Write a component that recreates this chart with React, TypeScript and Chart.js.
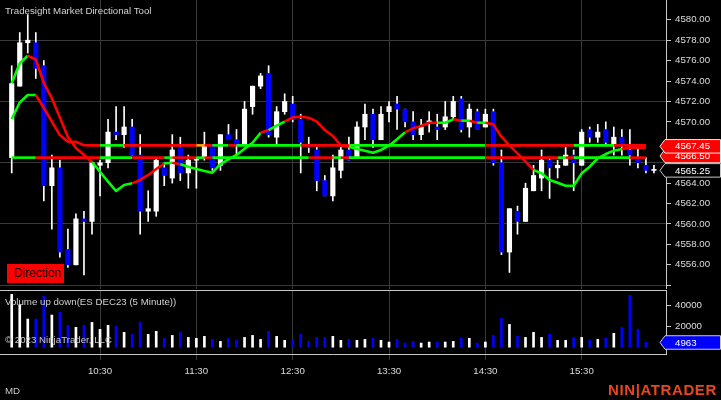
import React, { useEffect, useRef } from "react";
import { Chart, registerables } from "chart.js";
Chart.register(...registerables);

// ---------------- data ----------------
const opens = [
  4566.5, 4573.5, 4577.75, 4577.75, 4575.5, 4563.75, 4565.5, 4557.5, 4556.0, 4560.5,
  4560.25, 4565.75, 4566.0, 4569.0, 4568.75, 4569.5, 4566.75, 4561.25, 4561.25, 4565.5,
  4564.5, 4567.5, 4565.0, 4566.25, 4566.5, 4567.75, 4565.75, 4568.75, 4568.25, 4567.75,
  4571.5, 4573.5, 4574.75, 4568.5, 4571.0, 4571.75, 4570.25, 4567.75, 4567.25, 4564.25,
  4562.75, 4565.25, 4567.25, 4566.5, 4569.5, 4570.75, 4568.25, 4571.0, 4571.75, 4571.25,
  4570.0, 4568.75, 4570.0, 4569.5, 4569.5, 4570.5, 4572.25, 4569.5, 4571.0, 4569.5,
  4571.0, 4566.0, 4557.25, 4561.25, 4560.25, 4563.25, 4564.5, 4566.25, 4565.5, 4565.75,
  4566.75, 4565.75, 4569.25, 4568.5, 4569.25, 4567.75, 4568.5, 4567.25, 4566.5, 4565.75,
  4565.25,
];
const highs = [
  4575.5, 4578.75, 4580.5, 4578.75, 4576.0, 4566.75, 4566.25, 4559.5, 4561.0, 4561.25,
  4566.0, 4566.25, 4570.25, 4571.5, 4571.5, 4570.25, 4568.75, 4563.25, 4566.5, 4566.0,
  4568.75, 4568.5, 4566.75, 4566.5, 4569.0, 4567.75, 4568.75, 4569.75, 4569.25, 4572.0,
  4573.5, 4574.75, 4575.5, 4571.5, 4572.75, 4572.5, 4570.75, 4568.5, 4567.5, 4564.75,
  4566.75, 4567.5, 4568.5, 4570.0, 4571.75, 4571.25, 4571.5, 4572.0, 4572.5, 4571.25,
  4571.0, 4570.25, 4571.0, 4570.75, 4572.0, 4572.5, 4572.5, 4571.75, 4571.25, 4571.25,
  4571.25, 4567.25, 4561.5, 4561.75, 4564.0, 4565.75, 4567.25, 4566.5, 4566.25, 4567.5,
  4567.25, 4569.25, 4569.5, 4569.75, 4570.0, 4569.5, 4569.25, 4569.25, 4567.5, 4566.5,
  4565.75,
];
const lows = [
  4565.0, 4573.5, 4576.75, 4574.25, 4562.25, 4559.5, 4556.75, 4555.75, 4556.0, 4555.0,
  4559.0, 4562.75, 4565.5, 4568.25, 4567.5, 4566.75, 4559.0, 4560.25, 4560.75, 4563.75,
  4564.0, 4564.25, 4563.5, 4563.5, 4566.25, 4565.25, 4565.25, 4568.25, 4566.75, 4567.75,
  4570.75, 4573.25, 4568.5, 4567.75, 4570.75, 4570.0, 4565.0, 4567.0, 4563.25, 4562.75,
  4562.25, 4564.5, 4566.25, 4566.5, 4568.25, 4567.5, 4568.25, 4570.0, 4569.25, 4569.5,
  4568.25, 4568.25, 4569.0, 4568.25, 4569.25, 4570.25, 4569.0, 4568.5, 4569.25, 4569.5,
  4565.75, 4557.0, 4555.25, 4559.0, 4560.25, 4563.25, 4563.25, 4562.5, 4564.5, 4565.75,
  4563.25, 4565.75, 4568.0, 4568.0, 4567.75, 4566.75, 4566.75, 4565.75, 4565.5, 4565.0,
  4565.0,
];
const closes = [
  4573.75, 4577.75, 4578.0, 4575.25, 4563.75, 4565.5, 4557.25, 4556.0, 4560.5, 4560.25,
  4566.0, 4566.0, 4569.0, 4568.75, 4569.5, 4566.75, 4561.25, 4561.5, 4566.25, 4564.75,
  4567.25, 4565.0, 4566.25, 4566.25, 4567.75, 4565.5, 4568.75, 4568.25, 4567.75, 4571.25,
  4573.5, 4574.5, 4568.75, 4571.0, 4572.0, 4570.25, 4568.0, 4567.5, 4564.25, 4562.75,
  4565.5, 4567.25, 4566.25, 4569.5, 4570.75, 4568.25, 4570.75, 4571.5, 4571.25, 4570.0,
  4568.75, 4569.5, 4570.0, 4569.25, 4570.5, 4572.0, 4569.25, 4571.25, 4569.25, 4570.75,
  4566.0, 4557.25, 4561.5, 4560.25, 4563.5, 4564.75, 4566.25, 4565.5, 4565.75, 4566.75,
  4566.0, 4569.0, 4568.5, 4569.0, 4568.0, 4568.5, 4567.75, 4566.75, 4566.0, 4565.25,
  4565.25,
];
const volumes = [
  50800, 41000, 27300, 27300, 48900, 31100, 33700, 21300, 19400, 21300,
  24100, 17500, 21300, 20300, 14600, 12700, 24100, 12700, 15600, 8900,
  11700, 14600, 9800, 8900, 10800, 7900, 6000, 8900, 7000, 9800,
  11700, 7900, 15600, 10800, 7000, 7900, 12700, 6000, 9800, 9800,
  10800, 7000, 7900, 7000, 7900, 8900, 7000, 5400, 7900, 4400,
  6000, 4400, 5400, 5400, 5400, 6000, 8900, 8900, 4400, 5400,
  11700, 27900, 22200, 10800, 9800, 14600, 9800, 12700, 7000, 7000,
  9800, 9800, 7000, 7900, 8900, 13700, 19400, 49800, 17500, 4963,
];
const fastLine = [
  4573.78, 4575.74, 4576.48, 4576.11, 4573.81, 4572.31, 4570.43, 4568.52, 4567.44, 4566.76,
  4566.07, 4565.12, 4564.14, 4563.23, 4563.82, 4563.98, 4564.31, 4564.8, 4565.39, 4565.94,
  4566.0, 4565.85, 4565.61, 4565.39, 4565.19, 4565.02, 4565.87, 4566.33, 4566.76, 4567.37,
  4567.96, 4568.94, 4569.2, 4569.63, 4570.02, 4570.45, 4570.51, 4570.41, 4570.02, 4569.2,
  4568.62, 4567.67, 4567.57, 4567.34, 4567.18, 4566.98, 4567.25, 4567.67, 4568.29, 4568.98,
  4569.37, 4569.6, 4569.92, 4569.92, 4569.92, 4570.25, 4570.12, 4570.12, 4569.92, 4569.92,
  4569.76, 4568.55, 4567.67, 4566.92, 4566.1, 4565.29, 4564.96, 4564.31, 4564.04, 4563.75,
  4563.75, 4564.96, 4565.61, 4566.43, 4566.85, 4567.18, 4567.34, 4567.47, 4567.47, 4567.45,
];
const slowLine = [
  4570.28, 4571.9, 4572.63, 4572.63, 4571.36, 4570.04, 4568.71, 4568.06, 4568.06, 4567.71,
  4567.7, 4567.7, 4567.7, 4567.7, 4567.7, 4567.7, 4567.7, 4567.7, 4567.7, 4567.7,
  4567.7, 4567.7, 4567.7, 4567.7, 4567.7, 4567.7, 4567.7, 4567.7, 4567.7, 4567.7,
  4567.7, 4567.7, 4567.7, 4567.7, 4567.7, 4567.7, 4567.7, 4567.7, 4567.7, 4567.7,
  4567.7, 4567.7, 4567.7, 4567.7, 4567.7, 4567.7, 4567.7, 4567.7, 4567.7, 4567.7,
  4567.7, 4567.7, 4567.7, 4567.7, 4567.7, 4567.7, 4567.7, 4567.7, 4567.7, 4567.7,
  4567.7, 4567.7, 4567.7, 4567.7, 4567.7, 4567.7, 4567.7, 4567.7, 4567.7, 4567.7,
  4567.7, 4567.7, 4567.7, 4567.7, 4567.7, 4567.7, 4567.7, 4567.7, 4567.7, 4567.7,
];
const levelLine = [
  4566.5, 4566.5, 4566.5, 4566.5, 4566.5, 4566.5, 4566.5, 4566.5, 4566.5, 4566.5,
  4566.5, 4566.5, 4566.5, 4566.5, 4566.5, 4566.5, 4566.5, 4566.5, 4566.5, 4566.5,
  4566.5, 4566.5, 4566.5, 4566.5, 4566.5, 4566.5, 4566.5, 4566.5, 4566.5, 4566.5,
  4566.5, 4566.5, 4566.5, 4566.5, 4566.5, 4566.5, 4566.5, 4566.5, 4566.5, 4566.5,
  4566.5, 4566.5, 4566.5, 4566.5, 4566.5, 4566.5, 4566.5, 4566.5, 4566.5, 4566.5,
  4566.5, 4566.5, 4566.5, 4566.5, 4566.5, 4566.5, 4566.5, 4566.5, 4566.5, 4566.5,
  4566.5, 4566.5, 4566.5, 4566.5, 4566.5, 4566.5, 4566.5, 4566.5, 4566.5, 4566.5,
  4566.5, 4566.5, 4566.5, 4566.5, 4566.5, 4566.5, 4566.5, 4566.5, 4566.5, 4566.5,
];
// colour runs: [start bar index, g=green r=red o=orange]
const fastRuns: [number, string][] = [
  [0, "g"], [2, "r"], [10, "g"], [15, "r"], [19, "g"], [20, "r"], [21, "g"], [31, "r"], [32, "g"],
  [34, "r"], [42, "g"], [49, "r"], [53, "g"], [55, "r"], [56, "g"], [57, "r"], [58, "g"], [59, "r"],
  [65, "g"], [76, "r"],
];
const slowRuns: [number, string][] = [
  [0, "g"], [3, "r"], [11, "g"], [14, "r"], [23, "o"], [24, "r"], [25, "g"], [27, "r"], [28, "g"],
  [36, "r"], [42, "g"], [59, "r"], [70, "g"], [75, "r"],
];
const levelRuns: [number, string][] = [
  [0, "g"], [3, "r"], [11, "g"], [15, "r"], [19, "g"], [20, "r"], [23, "g"], [24, "r"], [25, "g"],
  [37, "r"], [40, "g"], [41, "r"], [42, "g"], [59, "r"], [68, "g"], [69, "r"], [70, "g"], [77, "r"],
];
const timeTickIndex = [11, 23, 35, 47, 59, 71];
const timeLabels = ["10:30", "11:30", "12:30", "13:30", "14:30", "15:30"];
const priceTicks = [4554, 4556, 4558, 4560, 4562, 4564, 4566, 4568, 4570, 4572, 4574, 4576, 4578, 4580];
const volumeTicks = [0, 20000, 40000];

// ---------------- styling ----------------
const FONT = '"Liberation Sans", Arial, Helvetica, sans-serif';
const GRID = "#3a3a3a";
const AXIS = "#c8c8c8";
const TXT = "#dcdcdc";
const UP = "#ffffff";
const DOWN = "#0000ff";
const palette: Record<string, string> = { g: "#00ff00", r: "#ff0000", o: "#ffa500" };
const X_MIN = -1.46;
const X_MAX = 81.5;
const P_MIN = 4553.63;
const P_MAX = 4581.94;
const V_MIN = -6000;
const V_MAX = 54950;
const AXIS_W = 55;
const FS = 9.7;
const TAG_H = 13.5;
const TAG_NUDGE = -1.6; // stacked tags are pushed up slightly to reduce overlap

function runColor(runs: [number, string][], i: number) {
  let c = runs[0][1];
  for (const [s, col] of runs) if (i >= s) c = col;
  return palette[c];
}

function drawTag(ctx: CanvasRenderingContext2D, y: number, text: string, fill: string, textColor: string, stroke: string) {
  const tip = 660, left = 665, right = 720.5, h = TAG_H;
  ctx.save();
  ctx.beginPath();
  ctx.moveTo(tip, y);
  ctx.lineTo(left, y - h / 2);
  ctx.lineTo(right, y - h / 2);
  ctx.lineTo(right, y + h / 2);
  ctx.lineTo(left, y + h / 2);
  ctx.closePath();
  ctx.fillStyle = fill;
  ctx.fill();
  ctx.strokeStyle = stroke;
  ctx.lineWidth = 1;
  ctx.stroke();
  ctx.fillStyle = textColor;
  ctx.font = `${FS}px ${FONT}`;
  ctx.textBaseline = "middle";
  ctx.textAlign = "left";
  ctx.fillText(text, 675, y + 0.5);
  ctx.restore();
}

const isUp = (i: number) => closes[i] >= opens[i];

function lineDataset(values: number[], runs: [number, string][], order: number) {
  return {
    type: "line" as const,
    data: values.map((v, i) => ({ x: i, y: v })),
    borderColor: runColor(runs, 0),
    borderWidth: 2.6,
    pointRadius: 0,
    tension: 0,
    borderJoinStyle: "round" as const,
    segment: { borderColor: (c: any) => runColor(runs, c.p0DataIndex) },
    order,
  };
}

export default function App() {
  const priceRef = useRef<HTMLCanvasElement>(null);
  const volRef = useRef<HTMLCanvasElement>(null);

  useEffect(() => {
    const idx = closes.map((_, i) => i);
    const tagPlugin = {
      id: "priceTags",
      afterDraw(chart: any) {
        const ctx = chart.ctx;
        const y = chart.scales.y;
        const lv = levelLine[levelLine.length - 1];
        const fv = fastLine[fastLine.length - 1];
        const cv = closes[closes.length - 1];
        drawTag(ctx, y.getPixelForValue(lv) + TAG_NUDGE, lv.toFixed(2), "#ff0000", "#ffffff", "#e8e8e8");
        drawTag(ctx, y.getPixelForValue(fv) + TAG_NUDGE, fv.toFixed(2), "#ff0000", "#ffffff", "#e8e8e8");
        drawTag(ctx, y.getPixelForValue(cv), cv.toFixed(2), "#000000", "#ffffff", AXIS);
      },
    };
    const price = new Chart(priceRef.current!, {
      type: "bar",
      data: {
        datasets: [
          lineDataset(fastLine, fastRuns, 1) as any,
          lineDataset(slowLine, slowRuns, 2) as any,
          lineDataset(levelLine, levelRuns, 3) as any,
          {
            type: "bar",
            data: idx.map((i) => ({ x: i, y: [opens[i], closes[i]] })),
            backgroundColor: idx.map((i) => (isUp(i) ? UP : DOWN)),
            barThickness: 4.5,
            minBarLength: 1,
            grouped: false,
            order: 4,
          } as any,
          {
            type: "bar",
            data: idx.map((i) => ({ x: i, y: [lows[i], highs[i]] })),
            backgroundColor: UP,
            barThickness: 1,
            grouped: false,
            order: 5,
          } as any,
        ],
      },
      options: {
        responsive: false,
        animation: false,
        events: [],
        layout: { padding: 0 },
        plugins: { legend: { display: false }, tooltip: { enabled: false } },
        scales: {
          x: {
            type: "linear",
            min: X_MIN,
            max: X_MAX,
            offset: false,
            afterBuildTicks: (s: any) => {
              s.ticks = timeTickIndex.map((v) => ({ value: v }));
            },
            afterFit: (s: any) => {
              s.height = 0;
              s.paddingLeft = 0;
              s.paddingRight = 0;
            },
            ticks: { display: false },
            grid: { color: GRID, drawTicks: false, offset: false },
            border: { display: false },
          },
          y: {
            position: "right",
            min: P_MIN,
            max: P_MAX,
            afterBuildTicks: (s: any) => {
              s.ticks = priceTicks.map((v) => ({ value: v }));
            },
            afterFit: (s: any) => {
              s.width = AXIS_W;
              s.paddingTop = 0;
              s.paddingBottom = 0;
            },
            ticks: {
              color: TXT,
              font: { family: FONT, size: FS },
              padding: 4,
              autoSkip: false,
              callback: (v: any) => (v === priceTicks[0] ? "" : Number(v).toFixed(2)),
            },
            grid: {
              color: (c: any) => (c.tick && Math.round(c.tick.value) % 6 === 0 ? GRID : "rgba(0,0,0,0)"),
              tickColor: AXIS,
              tickLength: 5,
            },
            border: { display: true, color: AXIS },
          },
        },
      },
      plugins: [tagPlugin],
    });

    const volPlugin = {
      id: "volDecor",
      afterDraw(chart: any) {
        const ctx = chart.ctx;
        const a = chart.chartArea;
        ctx.save();
        ctx.strokeStyle = AXIS;
        ctx.lineWidth = 1;
        ctx.beginPath();
        ctx.moveTo(0, a.top + 0.5);
        ctx.lineTo(a.right, a.top + 0.5);
        ctx.stroke();
        ctx.restore();
        const v = volumes[volumes.length - 1];
        drawTag(ctx, chart.scales.y.getPixelForValue(v), String(v), "#0000ff", "#ffffff", AXIS);
      },
    };
    const vol = new Chart(volRef.current!, {
      type: "bar",
      data: {
        datasets: [
          {
            data: volumes.map((v, i) => ({ x: i, y: v })),
            backgroundColor: volumes.map((_, i) => (isUp(i) ? UP : DOWN)),
            barThickness: 2,
          } as any,
        ],
      },
      options: {
        responsive: false,
        animation: false,
        events: [],
        layout: { padding: 0 },
        plugins: { legend: { display: false }, tooltip: { enabled: false } },
        scales: {
          x: {
            type: "linear",
            min: X_MIN,
            max: X_MAX,
            offset: false,
            position: "bottom",
            afterBuildTicks: (s: any) => {
              s.ticks = timeTickIndex.map((v) => ({ value: v }));
            },
            afterFit: (s: any) => {
              s.height = 46;
              s.paddingLeft = 0;
              s.paddingRight = 0;
            },
            ticks: {
              color: TXT,
              font: { family: FONT, size: FS },
              padding: 6,
              maxRotation: 0,
              autoSkip: false,
              callback: (v: any) => {
                const k = timeTickIndex.indexOf(Number(v));
                return k >= 0 ? timeLabels[k] : "";
              },
            },
            grid: { color: GRID, tickColor: GRID, tickLength: 6, drawTicks: true, offset: false },
            border: { display: true, color: AXIS },
          },
          y: {
            position: "right",
            min: V_MIN,
            max: V_MAX,
            afterBuildTicks: (s: any) => {
              s.ticks = volumeTicks.map((v) => ({ value: v }));
            },
            afterFit: (s: any) => {
              s.width = AXIS_W;
              s.paddingTop = 0;
              s.paddingBottom = 0;
            },
            ticks: {
              color: TXT,
              font: { family: FONT, size: FS },
              padding: 4,
              autoSkip: false,
              callback: (v: any) => (v === 0 ? "" : String(v)),
            },
            grid: { drawOnChartArea: false, tickColor: AXIS, tickLength: 5 },
            border: { display: true, color: AXIS },
          },
        },
      },
      plugins: [volPlugin],
    });

    return () => {
      price.destroy();
      vol.destroy();
    };
  }, []);

  const txt = (text: string, left: number, cy: number, size: number, color: string, extra: any = {}) => (
    <div
      style={{
        position: "absolute",
        left,
        top: cy - 8,
        height: 16,
        lineHeight: "16px",
        fontSize: size,
        fontFamily: FONT,
        color,
        whiteSpace: "nowrap",
        ...extra,
      }}
    >
      {text}
    </div>
  );

  return (
    <div
      style={{
        position: "fixed",
        left: 0,
        top: 0,
        width: 721,
        height: 400,
        background: "#000",
        overflow: "hidden",
      }}
    >
      <canvas ref={priceRef} width={721} height={289} style={{ position: "absolute", left: 0, top: 0, width: 721, height: 289 }} />
      <canvas ref={volRef} width={721} height={110} style={{ position: "absolute", left: 0, top: 290, width: 721, height: 110 }} />
      {txt("Tradesight Market Directional Tool", 5, 11, FS, "#d2d2d2")}
      <div
        style={{
          position: "absolute",
          left: 7,
          top: 264,
          width: 57,
          height: 19,
          background: "#ff0000",
          color: "#1a0000",
          fontFamily: FONT,
          fontSize: 12,
          lineHeight: "19px",
          textAlign: "right",
          paddingRight: 3,
          boxSizing: "border-box",
        }}
      >
        Direction
      </div>
      {txt("Volume up down(ES DEC23 (5 Minute))", 5, 302, FS, "#d2d2d2")}
      {txt("© 2023 NinjaTrader, LLC", 5, 340, FS, "#c8c8c8")}
      {txt("MD", 5, 391, FS, "#c8c8c8")}
      {txt("NIN|ATRADER", 608, 390, 15, "#e8461e", { fontWeight: "bold", letterSpacing: "0.6px" })}
    </div>
  );
}
